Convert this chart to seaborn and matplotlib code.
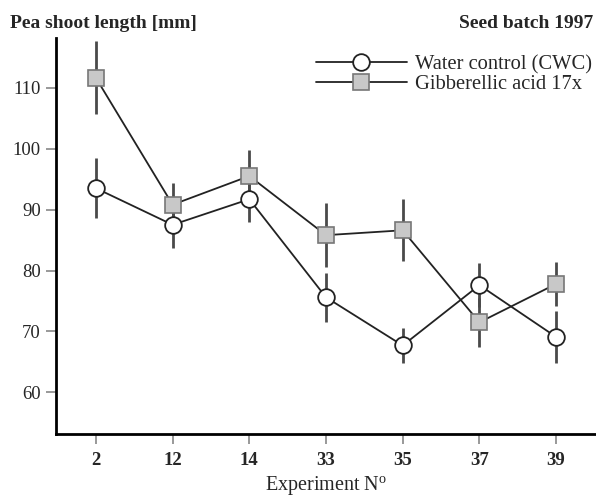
import numpy as np
import pandas as pd
import seaborn as sns
import matplotlib.pyplot as plt
from matplotlib.lines import Line2D

# 数据
experiments = ['2', '12', '14', '33', '35', '37', '39']
water_mean = [93.5, 87.5, 91.7, 75.6, 67.7, 77.6, 69.1]
water_err = [4.9, 3.8, 3.7, 4.0, 2.8, 3.6, 4.3]
ga_mean = [111.6, 90.8, 95.5, 85.8, 86.6, 71.5, 77.8]
ga_err = [6.0, 3.5, 4.2, 5.3, 5.1, 4.0, 3.6]

sns.set_style("ticks")
plt.rcParams['font.family'] = ['Liberation Serif', 'DejaVu Serif']
plt.rcParams['mathtext.fontset'] = 'custom'
plt.rcParams['mathtext.rm'] = 'Liberation Serif'

df = pd.DataFrame({
    'pos': list(range(len(experiments))) * 2,
    'value': water_mean + ga_mean,
    'group': ['Water control (CWC)'] * len(experiments) + ['Gibberellic acid 17x'] * len(experiments),
})

fig = plt.figure(figsize=(5.96, 4.97), dpi=100)
ax = fig.add_axes([0.094, 0.127, 0.906, 0.796])

pos = np.arange(len(experiments))
ax.errorbar(pos, water_mean, yerr=water_err, fmt='none', ecolor='#4a4a4a', elinewidth=2, capsize=0, zorder=1)
ax.errorbar(pos, ga_mean, yerr=ga_err, fmt='none', ecolor='#4a4a4a', elinewidth=2, capsize=0, zorder=1)

sns.lineplot(data=df[df['group'] == 'Water control (CWC)'], x='pos', y='value', ax=ax,
             color='#222222', linewidth=1.3, marker='o', markersize=12,
             markerfacecolor='white', markeredgecolor='#222222', markeredgewidth=1.3, zorder=3)
sns.lineplot(data=df[df['group'] == 'Gibberellic acid 17x'], x='pos', y='value', ax=ax,
             color='#222222', linewidth=1.3, marker='s', markersize=11,
             markerfacecolor='#c8c8c8', markeredgecolor='#777777', markeredgewidth=1.2, zorder=4)

ax.set_xlim(-0.52, 6.52)
ax.set_ylim(53.2, 118.1)
ax.set_xticks(pos)
ax.set_xticklabels(experiments, fontsize=13.5, fontweight='bold')
ax.set_yticks([60, 70, 80, 90, 100, 110])
ax.tick_params(axis='y', labelsize=13.5, length=7, width=1.2, color='#888888', pad=4)
ax.tick_params(axis='x', length=7, width=1.2, color='#888888', pad=6)
ax.set_xlabel('Experiment N$^\\mathregular{o}$', fontsize=14.5, labelpad=4)
ax.set_ylabel('')
sns.despine(ax=ax)
for s in ['left', 'bottom']:
    ax.spines[s].set_linewidth(2)
    ax.spines[s].set_color('black')

fig.text(0.017, 0.97, 'Pea shoot length [mm]', fontsize=14, fontweight='bold', va='top', ha='left')
fig.text(0.995, 0.97, 'Seed batch 1997', fontsize=14, fontweight='bold', va='top', ha='right')

handles = [
    Line2D([], [], color='#222222', linewidth=1.3, marker='o', markersize=12,
           markerfacecolor='white', markeredgecolor='#222222', markeredgewidth=1.3),
    Line2D([], [], color='#222222', linewidth=1.3, marker='s', markersize=11,
           markerfacecolor='#c8c8c8', markeredgecolor='#777777', markeredgewidth=1.2),
]
fig.legend(handles, ['Water control (CWC)', 'Gibberellic acid 17x'], loc='upper right',
           bbox_to_anchor=(1.0, 0.897), frameon=False, fontsize=14.8, handlelength=4.4,
           handletextpad=0.4, labelspacing=0.0, borderaxespad=0, borderpad=0.2)

fig.savefig('out.png', dpi=100)
